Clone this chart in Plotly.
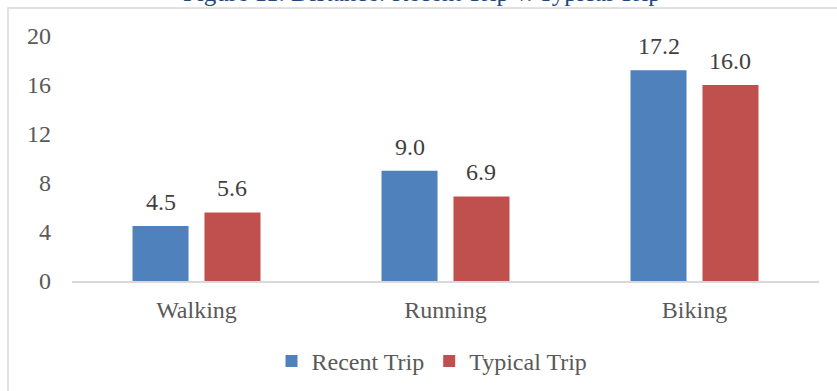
import plotly.graph_objects as go

# Average trip distance by activity
activities = ["Walking", "Running", "Biking"]
recent_trip = [4.5, 9.0, 17.2]
typical_trip = [5.6, 6.9, 16.0]
y_ticks = [0, 4, 8, 12, 16, 20]

BLUE = "#4F81BD"
RED = "#C0504D"
TEXT = "#595959"
LABEL = "#404040"
FONT = "Liberation Serif, Times New Roman, serif"
FS = 24

W, H = 837, 391
M_L, M_R, M_T, M_B = 72, 18, 36, 109.5
plot_w = W - M_L - M_R
plot_h = H - M_T - M_B


def px_x(px):
    return (px - M_L) / plot_w


def px_y(py):
    return (H - M_B - py) / plot_h


fig = go.Figure()
fig.add_trace(go.Bar(
    name="Recent Trip", x=activities, y=recent_trip,
    marker=dict(color=BLUE, line=dict(width=0)),
    width=0.225, offset=-0.257,
))
fig.add_trace(go.Bar(
    name="Typical Trip", x=activities, y=typical_trip,
    marker=dict(color=RED, line=dict(width=0)),
    width=0.225, offset=0.032,
))

# Value labels above each bar
for vals, off in ((recent_trip, -0.257), (typical_trip, 0.032)):
    for i, v in enumerate(vals):
        fig.add_annotation(
            x=i + off + 0.1125, y=v, xref="x", yref="y",
            text=f"{v:.1f}", showarrow=False,
            yanchor="bottom", yshift=9,
            font=dict(family=FONT, size=FS, color=LABEL),
        )

# Caption above the chart frame
fig.add_annotation(
    x=px_x(422), y=px_y(-8), xref="paper", yref="paper",
    text="Figure 11. Distance: Recent Trip v. Typical Trip",
    showarrow=False, xanchor="center", yanchor="middle",
    font=dict(family=FONT, size=25, color="#1F497D"),
)

# Chart frame
fig.add_shape(
    type="rect", xref="paper", yref="paper",
    x0=px_x(8), x1=px_x(845), y0=px_y(400), y1=px_y(8),
    line=dict(color="#D9D9D9", width=1.5), fillcolor="rgba(0,0,0,0)",
    layer="below",
)

fig.update_layout(
    width=W, height=H,
    margin=dict(l=M_L, r=M_R, t=M_T, b=M_B, pad=0, autoexpand=False),
    paper_bgcolor="white", plot_bgcolor="white",
    barmode="overlay",
    showlegend=True,
    legend=dict(
        orientation="h", x=px_x(432), xanchor="center",
        y=px_y(362), yanchor="middle",
        font=dict(family=FONT, size=FS, color=TEXT),
        itemwidth=30, tracegroupgap=0,
    ),
    font=dict(family=FONT, size=FS, color=TEXT),
)
fig.update_xaxes(
    type="category", range=[-0.5, 2.5],
    showline=True, linecolor="#D9D9D9", linewidth=1.5,
    showgrid=False, ticks="", ticklabelstandoff=6,
    tickfont=dict(family=FONT, size=FS, color=TEXT),
)
fig.update_yaxes(
    range=[0, 20], tickvals=y_ticks,
    showgrid=False, zeroline=False, showline=False,
    ticks="", ticklabelstandoff=20,
    tickfont=dict(family=FONT, size=FS, color=TEXT),
)

fig.write_html("out.html")
